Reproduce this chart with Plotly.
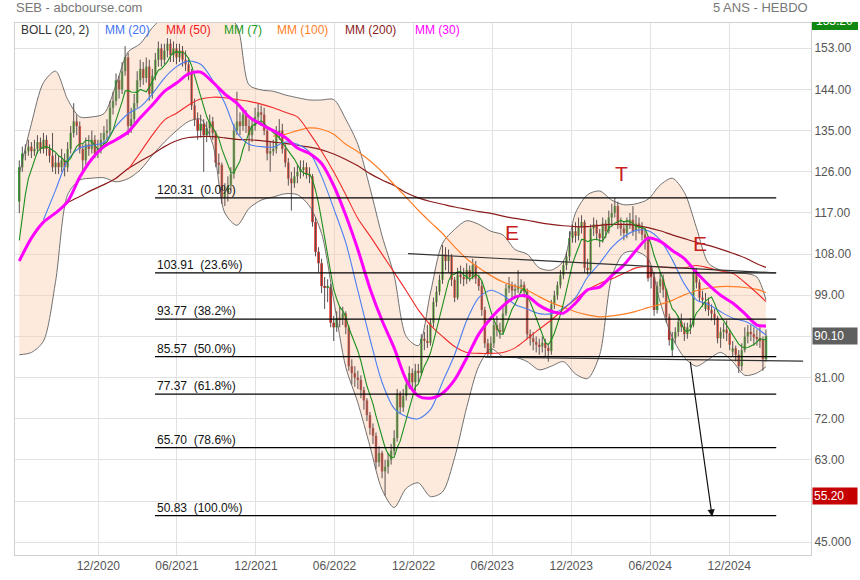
import pandas as pd
import plotly.graph_objects as go

# ---------------- data (weekly candles) ----------------
start = pd.Timestamp("2020-06-01")

opens = [119.5, 127, 130, 130.5, 131.5, 130.5, 131, 132.5, 131, 133,
         131, 129.5, 127, 128, 127, 128.5, 127, 131, 134.5, 137,
         136, 131, 128.5, 132, 131, 133, 130, 131, 133, 134.5,
         135, 140, 141.5, 146, 144, 148, 151, 136, 137.5, 141,
         146, 148.5, 146.5, 149, 143, 147, 150.5, 153, 150.5, 152.5,
         154, 151.5, 153, 151, 152.5, 150.5, 149.5, 147.5, 140.5, 137.5,
         135, 136.5, 134, 135.5, 137, 134.5, 128, 127.5, 120.5, 121.5,
         123, 125.5, 135, 137, 136, 138.5, 136, 134, 136, 138,
         139, 138.5, 135, 130, 130.5, 131, 134.5, 135, 131, 128,
         124.5, 123.5, 125, 126, 126.6, 127, 125.5, 125, 115, 108.5,
         106, 101, 100.6, 100.8, 93, 92, 94, 93.8, 95, 92,
         83.5, 82, 81, 80.5, 78.3, 76, 72.8, 70, 68.3, 62.5,
         64.5, 60.5, 61.5, 63, 65, 67.8, 77.5, 74.5, 77, 79.5,
         82, 80, 82.5, 82, 89.5, 89, 88.6, 93, 97.5, 99.8,
         102.4, 108, 106.5, 107.5, 102.4, 98.5, 103.5, 103, 102.5, 104.5,
         103, 105.6, 102.7, 101, 95.8, 88.5, 86.3, 88.5, 92.5, 91.4,
         91, 95, 100.5, 101.2, 100, 100.3, 101, 101.3, 99.8, 90.5,
         89.6, 88.8, 88.2, 87.8, 88.6, 87.5, 86.8, 97, 99, 101.2,
         103.4, 105.6, 107.5, 111.5, 113, 112, 114, 115, 105, 104.5,
         113.6, 114.5, 112.5, 111.5, 114.7, 113, 116, 117, 118.5, 114.7,
         113.6, 112.6, 114.5, 115.5, 113, 114.7, 113.8, 112.3, 111.5, 105.3,
         103, 95.8, 101, 102.5, 100.2, 94.3, 87, 89.6, 91, 93.2,
         92.1, 90.5, 92, 92.5, 103.8, 101.8, 98.5, 96, 97.5, 95.8,
         95, 94, 89.6, 91, 91.5, 90.7, 86.7, 87.4, 86, 83.5,
         87, 90, 91, 90.5, 89.8, 89.5, 89.2, 85]

closes = [127, 130, 130.5, 131.5, 130.5, 131, 132.5, 131, 133, 131,
          129.5, 127, 128, 127, 128.5, 127, 131, 134.5, 137, 136,
          131, 128.5, 132, 131, 133, 130, 131, 133, 134.5, 135,
          140, 141.5, 146, 144, 148, 151, 136, 137.5, 141, 146,
          148.5, 146.5, 149, 143, 147, 150.5, 153, 150.5, 152.5, 154,
          151.5, 153, 151, 152.5, 150.5, 149.5, 147.5, 140.5, 137.5, 135,
          136.5, 134, 135.5, 137, 134.5, 128, 127.5, 120.5, 121.5, 123,
          125.5, 135, 137, 136, 138.5, 136, 134, 136, 138, 139,
          138.5, 135, 130, 130.5, 131, 134.5, 135, 131, 128, 124.5,
          123.5, 125, 126, 126.6, 127, 125.5, 125, 115, 108.5, 106,
          101, 100.6, 100.8, 93, 92, 94, 93.8, 95, 92, 83.5,
          82, 81, 80.5, 78.3, 76, 72.8, 70, 68.3, 62.5, 64.5,
          60.5, 61.5, 63, 65, 67.8, 77.5, 74.5, 77, 79.5, 82,
          80, 82.5, 82, 89.5, 89, 88.6, 93, 97.5, 99.8, 102.4,
          108, 106.5, 107.5, 102.4, 98.5, 103.5, 103, 102.5, 104.5, 103,
          105.6, 102.7, 101, 95.8, 88.5, 86.3, 88.5, 92.5, 91.4, 91,
          95, 100.5, 101.2, 100, 100.3, 101, 101.3, 99.8, 90.5, 89.6,
          88.8, 88.2, 87.8, 88.6, 87.5, 86.8, 97, 99, 101.2, 103.4,
          105.6, 107.5, 111.5, 113, 112, 114, 115, 105, 104.5, 113.6,
          114.5, 112.5, 111.5, 114.7, 113, 116, 117, 118.5, 114.7, 113.6,
          112.6, 114.5, 115.5, 113, 114.7, 113.8, 112.3, 111.5, 102.7, 103,
          95.8, 101, 102.5, 100.2, 94.3, 89.2, 89.6, 91, 93.2, 92.1,
          90.5, 92, 92.5, 103.8, 101.8, 98.5, 98, 97.5, 95.8, 95,
          94, 89.6, 91, 91.5, 90.7, 88.2, 87.4, 86, 83.5, 87,
          90, 91, 90.5, 89.8, 89.5, 89.2, 85, 90.1]

highs = [128.5, 131.5, 132, 133, 132.5, 133, 134, 133.5, 134.5, 134,
         132, 134.5, 130, 129.5, 131, 130, 132.5, 136, 141, 138.5,
         137, 132, 133.5, 134, 135, 134, 133, 134.5, 136, 137.5,
         141.5, 143.5, 147.5, 147, 150, 153.5, 152, 140, 143, 148,
         150.5, 150, 151, 150.5, 148.5, 152, 154.5, 154, 154, 155.2,
         155, 154.5, 154, 154, 153.5, 152.5, 151, 148.5, 142, 139,
         138.5, 137.5, 137, 138.5, 138, 135, 130, 128, 123.5, 125,
         127, 136.5, 143.5, 139, 140, 139.5, 137.5, 137.5, 140, 141,
         140.5, 140, 136, 132.5, 133, 136, 137.5, 136.5, 132, 129,
         126, 127, 127.5, 128.5, 128.5, 128, 127, 125.5, 116, 109.5,
         107, 103, 102.5, 101.5, 94.5, 95.5, 96.5, 96.5, 95.5, 92.5,
         85, 83.5, 82.5, 81.5, 79, 76.5, 73.5, 71, 69, 66,
         65, 63, 64.5, 66.5, 69.5, 78.5, 78, 78.5, 81, 83.5,
         83, 84, 84, 90.5, 91, 92.5, 94, 98.5, 101, 103.5,
         110, 109.5, 109, 108, 103, 105, 105.5, 105, 106, 105.5,
         107, 106.5, 103.5, 102, 96.5, 89.5, 90, 93.5, 94.5, 93,
         96.5, 101.5, 103, 102, 101.5, 104.5, 102.5, 102, 100.5, 91.5,
         91, 90, 89.5, 90, 89.5, 88.5, 98, 100, 102, 104.5,
         106.5, 108.5, 113, 114.5, 115, 116, 116.5, 115.5, 107, 114.5,
         116, 115.5, 113.5, 116, 115.5, 117.5, 119, 120.3, 119.5, 116,
         115, 116, 117, 118.5, 116.5, 116, 115, 113.5, 112, 105.5,
         104, 102, 104, 103.5, 100.5, 95, 91, 92, 94.5, 95,
         93, 93, 94, 105, 105, 102.5, 100, 99.5, 98.5, 97,
         96, 94.5, 92, 93, 93.5, 91.5, 89, 88, 87, 88.5,
         92, 92.5, 92.5, 92, 91.5, 92.5, 90, 91.5]

lows = [117, 126, 128.5, 129.5, 129, 129.5, 130, 130, 130, 129.5,
        128, 126, 125.5, 125.5, 126, 125, 126, 130, 133.5, 134,
        130, 126, 127.5, 129.5, 130, 129, 129, 130, 132, 133,
        134, 138.5, 140.5, 142, 143, 147, 134, 134.5, 136, 140,
        144.5, 145, 145.5, 141.5, 142, 146, 149, 149, 149.5, 151,
        150, 150, 149.5, 150, 149, 148, 146, 139.5, 136, 133,
        133.5, 126, 132.5, 134, 133, 127, 125.5, 119, 118.5, 119.5,
        122, 124.5, 134, 134, 135, 134.5, 130.5, 132.5, 135, 136.5,
        136, 134, 128.5, 126, 129.5, 130, 133, 130, 127, 123,
        117.5, 122.5, 123.5, 124.5, 125, 124.5, 123.5, 114, 107.5, 104,
        99.5, 96, 97.5, 92, 89, 91, 92, 92.5, 90.5, 82.5,
        79.5, 79, 78.5, 76.5, 74, 71.5, 68.5, 66.5, 61, 61.5,
        59, 55.2, 60, 62, 64, 67, 73, 73.5, 76, 78.5,
        78.5, 78, 80, 81.5, 87, 87.5, 88, 92, 96.5, 99,
        101.5, 104.5, 104, 101, 97.5, 98, 101.5, 101, 101.5, 102,
        102.5, 101.5, 100, 94.5, 87.5, 85.5, 85.5, 87.5, 90, 89.5,
        90.5, 94.5, 99.5, 98.5, 98.5, 99.5, 99.5, 98.5, 89.5, 88,
        87, 86.5, 86, 86.5, 85.5, 84.5, 86, 96, 98, 100.5,
        102.5, 104.5, 106.5, 110.5, 110.5, 111, 112.5, 104, 103.5, 104,
        112, 111, 109.5, 110.5, 111.5, 112.5, 114, 116, 113.5, 112,
        111, 111.5, 113.5, 112, 111, 112.5, 111, 109, 102, 100.5,
        94.5, 95, 99.5, 98.5, 93, 88, 85.5, 88.5, 90, 91,
        89, 89.5, 90.5, 92, 100.5, 97.5, 96.5, 95.5, 94.5, 93.5,
        92.5, 88.5, 87.5, 89.5, 89, 87, 85.5, 84.5, 82, 82.5,
        86.5, 88.5, 89, 88, 88, 87.5, 82.5, 84.5]

# indicator lines, every 4 weeks (week index below)
ind_weeks = list(range(0, 245, 4)) + [247]

boll_up = [125.5, 136.5, 145.5, 148, 141.8, 138, 138, 138.7, 145, 152.2,
           154, 157.5, 160, 161, 161, 161, 160.5, 160, 158, 145,
           143.9, 143.6, 142.8, 142.2, 141.7, 141.7, 141.8, 137.5, 132, 122.5,
           112, 103.3, 90, 88, 99.5, 110.4, 113.4, 115.3, 114.5, 113,
           112.2, 109, 108, 105, 104.5, 106.5, 117, 121, 121.8, 119.8,
           118.8, 119, 120, 123.1, 124.6, 121.5, 113.8, 106, 104.5, 104,
           103.8, 103, 98]
boll_low = [86, 86.5, 89, 102, 121, 124.2, 124.6, 124.7, 123.8, 124.5,
            126.4, 129.6, 132.5, 135, 137, 137.5, 132, 117, 114.3, 118,
            119.8, 120.5, 121.2, 121, 118.5, 112.5, 98, 83.3, 75.5, 66,
            56.5, 52.6, 56.8, 58, 55, 56, 63.5, 74.5, 83.5, 87.3,
            85.6, 85.5, 84.5, 82.7, 83.5, 84.5, 81.8, 80.8, 86, 103,
            108.2, 108.6, 107, 97.5, 89.8, 85.4, 83.5, 85, 86.5, 84.5,
            81.5, 82, 83.4]
mm20 = [None, None, 115.5, 122, 128.5, 131.2, 131.8, 132.4, 136, 138.7,
        140.2, 143, 146.5, 149, 150.2, 149.5, 146, 141, 134.6, 132,
        131.5, 131.4, 132.5, 132, 130.3, 125, 118, 110.5, 100, 89.5,
        80, 74.3, 72.5, 72, 74, 80, 86, 93.5, 98.5, 100.1,
        99, 97, 96, 95, 95, 96.2, 98.5, 103, 106, 109.5,
        111.8, 113.2, 113.1, 111.1, 106.8, 101.5, 98, 97, 95.4, 94,
        93.3, 91.8, 90.3]
mm30 = [106.5, 111.5, 115, 117, 119.5, 124.8, 128.8, 131.5, 133, 134.7,
        137.8, 140.6, 143.6, 145.4, 147.4, 147.8, 145.6, 143, 141, 138,
        136.4, 135, 133.5, 131.2, 130, 127.8, 123, 116.5, 109, 100.5,
        93.5, 87.5, 80.5, 77, 76.5, 77.6, 80.5, 85.3, 90.5, 94,
        96.7, 98.6, 98.8, 96.8, 95.5, 95.1, 97.3, 100.2, 100.8, 103.3,
        105.6, 108.8, 111.5, 110.8, 108.8, 107, 104, 101.3, 99, 97.3,
        95, 92.5, 92.3]
mm50 = [None, None, None, None, None, None, None, None, None, 126.5,
        130.2, 134, 137.3, 138.8, 140.6, 141.9, 142.3, 142.2, 141.8, 141.4,
        140.8, 140, 139, 138, 134.5, 130.5, 126, 121, 115.8, 112,
        108, 104, 100, 95.8, 92.5, 90, 87.8, 86.5, 86.3, 86.3,
        86.5, 87.5, 89.5, 91.6, 93.6, 96, 98.2, 100.2, 101.6, 102.6,
        103.8, 105, 105.3, 105.2, 105, 105, 105.5, 105, 104.3, 103.8,
        101.8, 99.5, 97.6]
mm100 = [None, None, None, None, None, None, None, None, None, None,
         None, None, None, None, None, None, None, None, None, None,
         None, 133.8, 134.2, 135, 135.6, 135.3, 134.2, 132, 130.4, 128.4,
         126, 123.2, 120.4, 117.6, 115, 112.5, 109.6, 107, 105, 103.3,
         101.9, 101, 100.1, 98.7, 97.4, 96.4, 95.4, 94.7, 94.3, 94.5,
         94.9, 95.5, 96.3, 97, 97.9, 99.1, 100, 100.6, 100.9, 100.9,
         100.7, 100.3, 99.6]
mm200 = [None, None, None, None, 119.3, 120.6, 122, 123.2, 124.6, 126.7,
         128.3, 129.8, 131.5, 132.8, 133.5, 133.7, 133.7, 133.4, 133.1, 133,
         132.8, 132.5, 132.2, 131.8, 131.4, 130.8, 129.9, 128.7, 127.3, 125.6,
         124.2, 123, 121.4, 120.3, 119.5, 118.9, 118.3, 117.8, 117.3, 116.9,
         116.3, 115.8, 115.4, 114.9, 114.5, 114.2, 114, 114, 114.3, 114.5,
         114.5, 114.3, 113.8, 113.1, 112.2, 111.4, 110.6, 109.9, 109.1, 108.2,
         107.2, 105.9, 105.1]
mm7_head = [111, 116, 121, 124.5, 126.5, 128]   # first weeks

fib_values = [120.31, 103.91, 93.77, 85.57, 77.37, 65.70, 50.83]
fib_labels = ["120.31  (0.0%)", "103.91  (23.6%)", "93.77  (38.2%)", "85.57  (50.0%)",
              "77.37  (61.8%)", "65.70  (78.6%)", "50.83  (100.0%)"]

x_tick_dates = ["2020-12-01", "2021-06-01", "2021-12-01", "2022-06-01", "2022-12-01",
                "2023-06-01", "2023-12-01", "2024-06-01", "2024-12-01"]
x_tick_text = ["12/2020", "06/2021", "12/2021", "06/2022", "12/2022",
               "06/2023", "12/2023", "06/2024", "12/2024"]
y_tick_vals = [153, 144, 135, 126, 117, 108, 99, 90, 81, 72, 63, 54, 45]
y_tick_text = ["153.00", "144.00", "135.00", "126.00", "117.00", "108.00", "99.00",
               "", "81.00", "72.00", "63.00", "", "45.000"]

last_price, max_price, min_price = 90.10, 155.20, 55.20

# ---------------- helpers ----------------
def wk(i):
    return (start + pd.Timedelta(days=7 * i)).strftime("%Y-%m-%d %H:%M")

n = len(closes)
dates = [wk(i) for i in range(n)]
ind_dates = [wk(i) for i in ind_weeks]

mm7 = pd.Series(closes).rolling(7).mean().tolist()
mm7[:len(mm7_head)] = mm7_head

FONT = "Liberation Sans, Arial, sans-serif"
GREEN, RED = "#2cb52c", "#e2231c"
PW, PH = 796, 532   # plot area size in px

fig = go.Figure()

# Bollinger band
fig.add_trace(go.Scatter(x=ind_dates, y=boll_low, mode="lines",
                         line=dict(color="#707070", width=1, shape="spline", smoothing=0.8),
                         hoverinfo="skip"))
fig.add_trace(go.Scatter(x=ind_dates, y=boll_up, mode="lines", fill="tonexty",
                         fillcolor="rgba(250,200,165,0.38)",
                         line=dict(color="#707070", width=1, shape="spline", smoothing=0.8),
                         hoverinfo="skip"))

# wicks
wx, wy = [], []
for d, h, l in zip(dates, highs, lows):
    wx += [d, d, None]
    wy += [l, h, None]
fig.add_trace(go.Scatter(x=wx, y=wy, mode="lines", line=dict(color="#5a5050", width=1),
                         hoverinfo="skip"))

# bodies
base = [min(o, c) for o, c in zip(opens, closes)]
height = [max(abs(c - o), 0.3) for o, c in zip(opens, closes)]
cols = [GREEN if c >= o else RED for o, c in zip(opens, closes)]
fig.add_trace(go.Bar(x=dates, y=height, base=base, marker=dict(color=cols, line=dict(width=0)),
                     width=6 * 86400000, hoverinfo="skip"))

# moving averages
def ma_line(y, color, width, x=None):
    fig.add_trace(go.Scatter(x=x if x is not None else ind_dates, y=y, mode="lines",
                             line=dict(color=color, width=width, shape="spline", smoothing=0.8),
                             hoverinfo="skip", connectgaps=False))

ma_line(mm200, "#8b1c1c", 1.2)
ma_line(mm100, "#ff7f27", 1.2)
ma_line(mm50, "#f22a2a", 1.1)
ma_line(mm20, "#4c7ff2", 1.1)
fig.add_trace(go.Scatter(x=dates, y=mm7, mode="lines", line=dict(color="#1c8f1c", width=1.1),
                         hoverinfo="skip"))
ma_line(mm30, "#ff00ff", 3)

# ---------------- shapes & annotations ----------------
shapes = []
annotations = []
for v, lab in zip(fib_values, fib_labels):
    shapes.append(dict(type="line", xref="x", yref="y", x0=wk(44.9), x1=wk(250.4), y0=v, y1=v,
                       line=dict(color="black", width=1.2)))
    annotations.append(dict(x=wk(44.9), y=v, xref="x", yref="y", text=lab.replace(" ", "\u00a0"),
                            showarrow=False, xanchor="left", yanchor="bottom", yshift=-1,
                            font=dict(family=FONT, size=12, color="#111")))
# necklines
shapes.append(dict(type="line", xref="x", yref="y", x0=wk(128.6), y0=108.1, x1=wk(250.1), y1=103.9,
                   line=dict(color="#333", width=1.2)))
shapes.append(dict(type="line", xref="x", yref="y", x0=wk(154.1), y0=85.5, x1=wk(259.3), y1=84.6,
                   line=dict(color="#333", width=1.2)))
# target arrow
annotations.append(dict(x=wk(229.2), y=50.6, ax=wk(221.9), ay=84.8, xref="x", yref="y",
                        axref="x", ayref="y", showarrow=True, arrowhead=2, arrowsize=1.2,
                        arrowwidth=1.2, arrowcolor="#111", text=""))
# pattern letters
for i, v, t in [(163, 112.8, "E"), (199.1, 125.7, "T"), (225.3, 110.4, "E")]:
    annotations.append(dict(x=wk(i), y=v, xref="x", yref="y", text=t, showarrow=False,
                            font=dict(family=FONT, size=21, color="#c81e1e")))

# legend row
for px, txt, col in [(19, "BOLL (20, 2)", "#333"), (103, "MM (20)", "#3f73f0"),
                     (164, "MM (50)", "#f02020"), (222, "MM (7)", "#1a9a1a"),
                     (275, "MM (100)", "#ff7f27"), (343, "MM (200)", "#8b1c1c"),
                     (413, "MM (30)", "#ff00ff")]:
    annotations.append(dict(x=(px - 15) / PW, y=1 - 7 / PH, xref="paper", yref="paper",
                            text=txt, showarrow=False, xanchor="left", yanchor="middle",
                            font=dict(family=FONT, size=12, color=col)))

# titles
annotations.append(dict(x=-0.001, y=1 + 15 / PH, xref="paper", yref="paper",
                        text="SEB - abcbourse.com", showarrow=False, xanchor="left",
                        yanchor="middle", font=dict(family=FONT, size=13, color="#777")))
annotations.append(dict(x=(810 - 15) / PW, y=1 + 15 / PH, xref="paper", yref="paper",
                        text="5 ANS - HEBDO", showarrow=False, xanchor="right",
                        yanchor="middle", font=dict(family=FONT, size=13, color="#777")))

# price boxes on the right
shapes.append(dict(type="rect", xref="paper", yref="paper", x0=(812 - 15) / PW,
                   x1=(858 - 15) / PW, y0=1 - 7 / PH, y1=1 + 1 / PH,
                   fillcolor="#118811", line=dict(width=0)))
annotations.append(dict(x=(814 - 15) / PW, y=1 + 2 / PH, xref="paper", yref="paper",
                        text=f"{max_price:.2f}", showarrow=False, xanchor="left", yanchor="middle",
                        font=dict(family=FONT, size=12, color="white")))
for v, bg in [(last_price, "#5f5f5f"), (min_price, "#c40000")]:
    annotations.append(dict(x=(812 - 15) / PW, y=v, xref="paper", yref="y",
                            text=f"{v:.2f}", showarrow=False, xanchor="left", yanchor="middle",
                            bgcolor=bg, width=42, height=14, align="left", borderpad=1,
                            font=dict(family=FONT, size=12, color="white")))

fig.update_layout(
    width=860, height=580,
    margin=dict(l=15, r=49, t=23, b=25, autoexpand=False),
    paper_bgcolor="white", plot_bgcolor="white",
    showlegend=False, barmode="overlay",
    font=dict(family=FONT, size=12, color="#555"),
    shapes=shapes, annotations=annotations,
    xaxis=dict(type="date", range=[wk(-1.42), wk(261.9)], tickvals=x_tick_dates,
               ticktext=x_tick_text, showgrid=True, gridcolor="#e2e2e2", gridwidth=1,
               showline=True, linecolor="#d0d0d0", mirror=True, ticks="", automargin=False,
               tickfont=dict(family=FONT, size=12, color="#555"), zeroline=False),
    yaxis=dict(side="right", range=[42.22, 158.53], tickvals=y_tick_vals, ticktext=y_tick_text,
               showgrid=True, gridcolor="#e2e2e2", gridwidth=1, showline=True, automargin=False,
               linecolor="#d0d0d0", mirror=True, ticks="", zeroline=False,
               tickfont=dict(family=FONT, size=12, color="#555")),
)

fig.write_html("out.html", config={"displayModeBar": False},
               post_script="document.body.style.margin='0';document.body.style.overflow='hidden';")
